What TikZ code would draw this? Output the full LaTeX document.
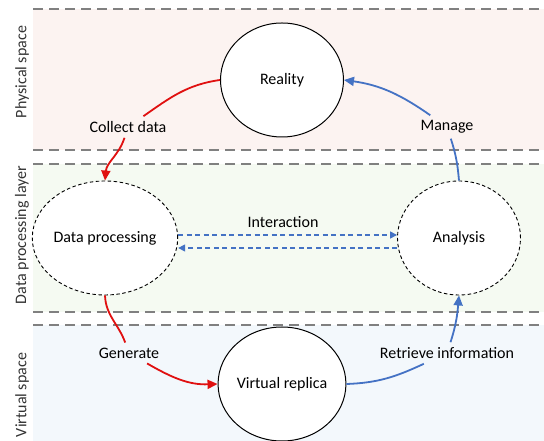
\documentclass[tikz,border=0pt]{standalone}
\usepackage{fontspec}
\setmainfont{Carlito}
\usetikzlibrary{arrows.meta,shapes.geometric}
\definecolor{physbg}{HTML}{FCF3F1}
\definecolor{databg}{HTML}{F5FAF2}
\definecolor{virtbg}{HTML}{F3F8FC}
\definecolor{redarr}{HTML}{E01010}
\definecolor{bluearr}{HTML}{4472C4}
\definecolor{sepgrey}{HTML}{808080}

\begin{document}
\begin{tikzpicture}[x=1pt,y=1pt,font=\fontsize{16}{19}\selectfont,
	>={Triangle[length=10pt,width=9pt]},
	state/.style={ellipse,draw,line width=1pt,fill=white,minimum width=123pt,minimum height=114pt,inner sep=0pt},
	layerstate/.style={state,dash pattern=on 3.5pt off 2.5pt,line width=0.9pt},
	sep/.style={sepgrey,line width=1.3pt,dash pattern=on 10pt off 6pt},
	lab/.style={inner sep=5pt},
	side/.style={rotate=90,text=black!80},
	flow/.style={line width=1.8pt},
	link/.style={bluearr,line width=1.4pt,dash pattern=on 5pt off 3.5pt,-{Triangle[length=7pt,width=7pt]}}]
		\useasboundingbox (0,0) rectangle (544,441);
		% layers
		\fill[physbg] (33,291) rectangle (544,432);
		\fill[databg] (33,129) rectangle (544,277);
		\fill[virtbg] (33,0) rectangle (544,116);
		\foreach \y in {432,291,277,129,116}
			\draw[sep] (33,\y) -- (544,\y);
		\node[side] (phys) at (22,369) {Physical space};
		\node[side] (proc) at (22,206) {Data processing layer};
		\node[side] (virt) at (22,46) {Virtual space};
		% states
		\node[state] (reality) at (282,361) {Reality};
		\node[layerstate] (dataproc) at (105,203) {Data processing};
		\node[layerstate] (analysis) at (459,203) {Analysis};
		\node[state] (replica) at (282,57) {Virtual replica};
		% labels
		\node[lab] (collect) at (128,314) {Collect data};
		\node[lab] (manage) at (447,314) {Manage};
		\node[lab] (generate) at (129,88) {Generate};
		\node[lab] (retrieve) at (447,88) {Retrieve information};
		\node (interact) at (283,219) {Interaction};
		% cycle
		\draw[flow,redarr] (reality.west) to[out=188,in=35] (collect);
		\draw[flow,redarr,->] (collect) to[out=252,in=85] (dataproc.north);
		\draw[flow,redarr] (dataproc.south) to[out=272,in=110] (generate);
		\draw[flow,redarr,->] (generate) to[out=-30,in=182] (replica.west);
		\draw[flow,bluearr] (replica.east) to[out=2,in=205] (retrieve);
		\draw[flow,bluearr,->] (retrieve) to[out=72,in=265] (analysis.south);
		\draw[flow,bluearr] (analysis.north) to[out=95,in=288] (manage);
		\draw[flow,bluearr,->] (manage) to[out=145,in=-8] (reality.east);
		% interaction
		\draw[link] ([yshift=3pt]dataproc.east) -- ([yshift=3pt]analysis.west);
		\draw[link] ([yshift=-10pt]analysis.west) -- ([yshift=-10pt]dataproc.east);
\end{tikzpicture}
\end{document}
